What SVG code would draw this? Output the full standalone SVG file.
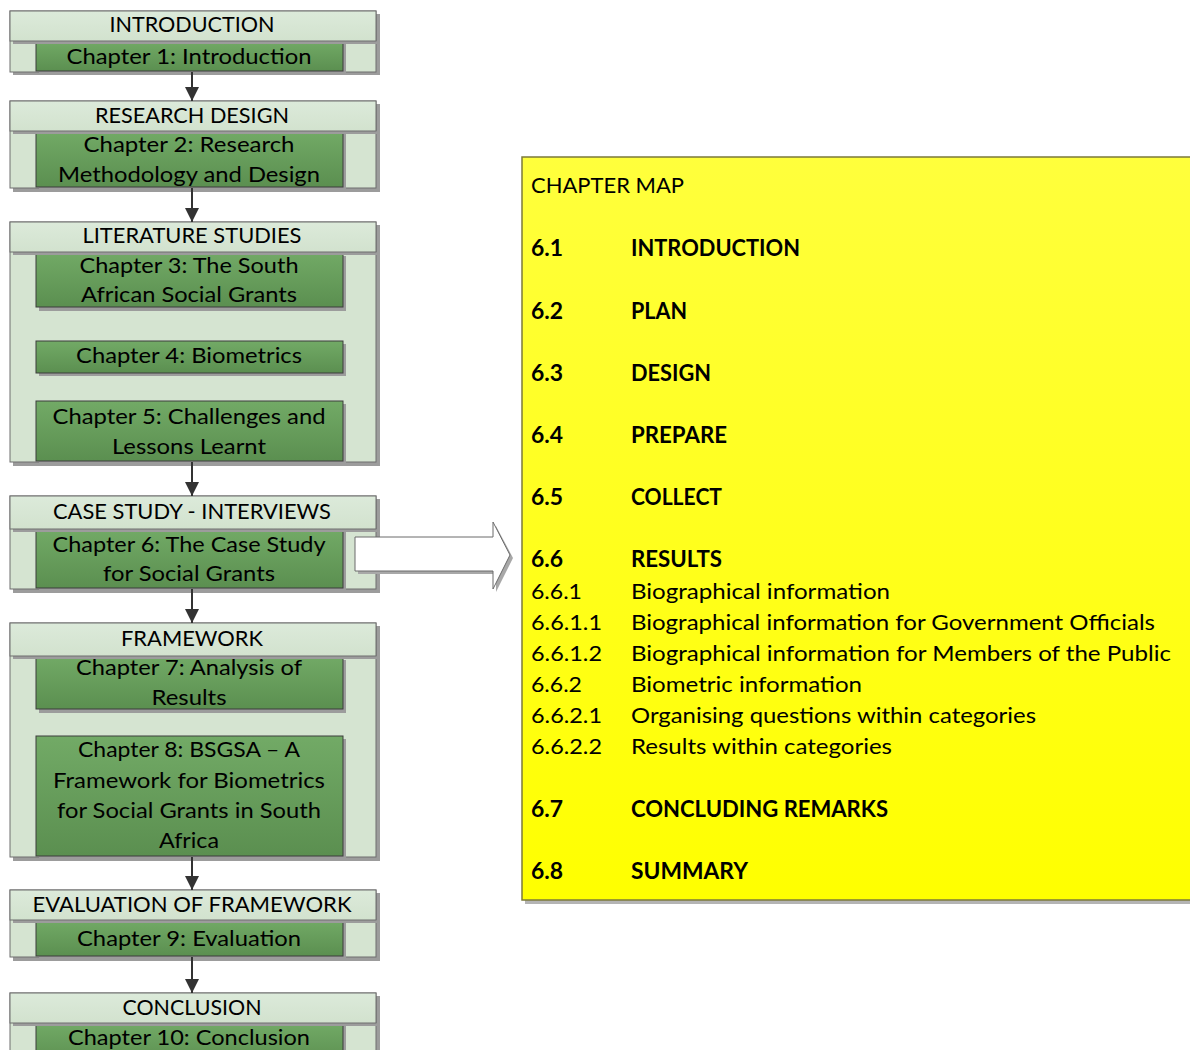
<svg xmlns="http://www.w3.org/2000/svg" width="1190" height="1050" viewBox="0 0 1190 1050">
  <style>
    .t { font-family: Lato, "Liberation Sans", sans-serif; font-size: 22px; fill: #000; }
    .c { text-anchor: middle; }
    .b { font-weight: bold; }
    .outer { fill: #d5e4d1; stroke: #6e6e6e; stroke-width: 1; }
    .head { fill: url(#headFill); stroke: #6e6e6e; stroke-width: 1; }
    .inner { fill: url(#greenFill); stroke: #3c3c3c; stroke-width: 1; }
    .shadow { fill: #9c9c9c; }
    .link { stroke: #333; stroke-width: 2; fill: none; }
  </style>
  <defs>
    <linearGradient id="greenFill" x1="0" y1="0" x2="0" y2="1">
      <stop offset="0" stop-color="#72aa66"/>
      <stop offset="1" stop-color="#5b8f50"/>
    </linearGradient>
    <linearGradient id="headFill" x1="0" y1="0" x2="0" y2="1">
      <stop offset="0" stop-color="#dceada"/>
      <stop offset="1" stop-color="#d2e2ce"/>
    </linearGradient>
    <linearGradient id="yellowFill" x1="0" y1="0" x2="0" y2="1">
      <stop offset="0" stop-color="#ffff3c"/>
      <stop offset="1" stop-color="#ffff00"/>
    </linearGradient>
    <marker id="tip" viewBox="0 0 14 14" refX="14" refY="7" markerWidth="14" markerHeight="14" markerUnits="userSpaceOnUse" orient="auto">
      <path d="M0,0 L14,7 L0,14 z" fill="#333"/>
    </marker>
  </defs>

  <!-- Stage 1 -->
  <g id="introduction">
    <rect class="shadow" x="13" y="14" width="367" height="61"/>
    <rect class="outer" x="10" y="11" width="366" height="61"/>
    <rect class="shadow" x="39" y="44" width="307" height="31"/>
    <rect class="inner" x="36" y="41" width="307" height="30"/>
    <rect class="shadow" x="13" y="41" width="367" height="3"/>
    <rect class="head" x="10" y="11" width="366" height="30"/>
    <text class="t c" x="192" y="32" textLength="165" lengthAdjust="spacingAndGlyphs">INTRODUCTION</text>
    <text class="t c" x="189" y="64" textLength="245" lengthAdjust="spacingAndGlyphs">Chapter 1: Introduction</text>
  </g>

  <!-- Stage 2 -->
  <g id="research-design">
    <rect class="shadow" x="13" y="104" width="367" height="88"/>
    <rect class="outer" x="10" y="101" width="366" height="87"/>
    <rect class="shadow" x="39" y="134" width="307" height="57"/>
    <rect class="inner" x="36" y="131" width="307" height="56"/>
    <rect class="shadow" x="13" y="131" width="367" height="3"/>
    <rect class="head" x="10" y="101" width="366" height="30"/>
    <text class="t c" x="192" y="123" textLength="194" lengthAdjust="spacingAndGlyphs">RESEARCH DESIGN</text>
    <text class="t c" x="189" y="152" textLength="211" lengthAdjust="spacingAndGlyphs">Chapter 2: Research</text>
    <text class="t c" x="189" y="182" textLength="262" lengthAdjust="spacingAndGlyphs">Methodology and Design</text>
  </g>

  <!-- Stage 3 -->
  <g id="literature-studies">
    <rect class="shadow" x="13" y="225" width="367" height="241"/>
    <rect class="outer" x="10" y="222" width="366" height="240"/>
    <rect class="shadow" x="39" y="256" width="307" height="55"/>
    <rect class="inner" x="36" y="252" width="307" height="55"/>
    <rect class="shadow" x="39" y="344" width="307" height="32"/>
    <rect class="inner" x="36" y="341" width="307" height="32"/>
    <rect class="shadow" x="39" y="404" width="307" height="60"/>
    <rect class="inner" x="36" y="401" width="307" height="60"/>
    <rect class="shadow" x="13" y="252" width="367" height="3"/>
    <rect class="head" x="10" y="222" width="366" height="30"/>
    <text class="t c" x="192" y="243" textLength="219" lengthAdjust="spacingAndGlyphs">LITERATURE STUDIES</text>
    <text class="t c" x="189" y="273" textLength="219" lengthAdjust="spacingAndGlyphs">Chapter 3: The South</text>
    <text class="t c" x="189" y="302" textLength="216" lengthAdjust="spacingAndGlyphs">African Social Grants</text>
    <text class="t c" x="189" y="363" textLength="226" lengthAdjust="spacingAndGlyphs">Chapter 4: Biometrics</text>
    <text class="t c" x="189" y="424" textLength="273" lengthAdjust="spacingAndGlyphs">Chapter 5: Challenges and</text>
    <text class="t c" x="189" y="454" textLength="154" lengthAdjust="spacingAndGlyphs">Lessons Learnt</text>
  </g>

  <!-- Stage 4 -->
  <g id="case-study">
    <rect class="shadow" x="13" y="499" width="367" height="94"/>
    <rect class="outer" x="10" y="496" width="366" height="93"/>
    <rect class="shadow" x="39" y="532" width="307" height="60"/>
    <rect class="inner" x="36" y="529" width="307" height="59"/>
    <rect class="shadow" x="13" y="529" width="367" height="3"/>
    <rect class="head" x="10" y="496" width="366" height="33"/>
    <text class="t c" x="192" y="519" textLength="278" lengthAdjust="spacingAndGlyphs">CASE STUDY - INTERVIEWS</text>
    <text class="t c" x="189" y="552" textLength="273" lengthAdjust="spacingAndGlyphs">Chapter 6: The Case Study</text>
    <text class="t c" x="189" y="581" textLength="172" lengthAdjust="spacingAndGlyphs">for Social Grants</text>
  </g>

  <!-- Stage 5 -->
  <g id="framework">
    <rect class="shadow" x="13" y="626" width="367" height="235"/>
    <rect class="outer" x="10" y="623" width="366" height="234"/>
    <rect class="shadow" x="39" y="660" width="307" height="53"/>
    <rect class="inner" x="36" y="656" width="307" height="53"/>
    <rect class="shadow" x="39" y="739" width="307" height="121"/>
    <rect class="inner" x="36" y="736" width="307" height="120"/>
    <rect class="shadow" x="13" y="656" width="367" height="3"/>
    <rect class="head" x="10" y="623" width="366" height="33"/>
    <text class="t c" x="192" y="646" textLength="142" lengthAdjust="spacingAndGlyphs">FRAMEWORK</text>
    <text class="t c" x="189" y="675" textLength="226" lengthAdjust="spacingAndGlyphs">Chapter 7: Analysis of</text>
    <text class="t c" x="189" y="705" textLength="75" lengthAdjust="spacingAndGlyphs">Results</text>
    <text class="t c" x="189" y="757" textLength="222" lengthAdjust="spacingAndGlyphs">Chapter 8: BSGSA – A</text>
    <text class="t c" x="189" y="788" textLength="272" lengthAdjust="spacingAndGlyphs">Framework for Biometrics</text>
    <text class="t c" x="189" y="818" textLength="264" lengthAdjust="spacingAndGlyphs">for Social Grants in South</text>
    <text class="t c" x="189" y="848" textLength="60" lengthAdjust="spacingAndGlyphs">Africa</text>
  </g>

  <!-- Stage 6 -->
  <g id="evaluation">
    <rect class="shadow" x="13" y="893" width="367" height="68"/>
    <rect class="outer" x="10" y="890" width="366" height="67"/>
    <rect class="shadow" x="39" y="923" width="307" height="37"/>
    <rect class="inner" x="36" y="920" width="307" height="36"/>
    <rect class="shadow" x="13" y="920" width="367" height="3"/>
    <rect class="head" x="10" y="890" width="366" height="30"/>
    <text class="t c" x="192" y="912" textLength="319" lengthAdjust="spacingAndGlyphs">EVALUATION OF FRAMEWORK</text>
    <text class="t c" x="189" y="946" textLength="224" lengthAdjust="spacingAndGlyphs">Chapter 9: Evaluation</text>
  </g>

  <!-- Stage 7 -->
  <g id="conclusion">
    <rect class="shadow" x="13" y="996" width="367" height="70"/>
    <rect class="outer" x="10" y="993" width="366" height="70"/>
    <rect class="shadow" x="39" y="1026" width="307" height="40"/>
    <rect class="inner" x="36" y="1023" width="307" height="40"/>
    <rect class="shadow" x="13" y="1023" width="367" height="3"/>
    <rect class="head" x="10" y="993" width="366" height="30"/>
    <text class="t c" x="192" y="1015" textLength="139" lengthAdjust="spacingAndGlyphs">CONCLUSION</text>
    <text class="t c" x="189" y="1045" textLength="242" lengthAdjust="spacingAndGlyphs">Chapter 10: Conclusion</text>
  </g>

  <!-- Chapter map panel -->
  <g id="chapter-map">
    <rect x="525" y="160" width="670" height="744" fill="#b4b4b4"/>
    <rect x="522" y="157" width="670" height="743" fill="url(#yellowFill)" stroke="#7c7a3a" stroke-width="1.5"/>
    <g class="t">
      <text x="531" y="193" textLength="153" lengthAdjust="spacingAndGlyphs">CHAPTER MAP</text>
      <g class="b">
        <text x="531" y="256" textLength="32" lengthAdjust="spacingAndGlyphs">6.1</text>
        <text x="631" y="256" textLength="169" lengthAdjust="spacingAndGlyphs">INTRODUCTION</text>
        <text x="531" y="319" textLength="32" lengthAdjust="spacingAndGlyphs">6.2</text>
        <text x="631" y="319" textLength="56" lengthAdjust="spacingAndGlyphs">PLAN</text>
        <text x="531" y="381" textLength="32" lengthAdjust="spacingAndGlyphs">6.3</text>
        <text x="631" y="381" textLength="80" lengthAdjust="spacingAndGlyphs">DESIGN</text>
        <text x="531" y="443" textLength="32" lengthAdjust="spacingAndGlyphs">6.4</text>
        <text x="631" y="443" textLength="96" lengthAdjust="spacingAndGlyphs">PREPARE</text>
        <text x="531" y="505" textLength="32" lengthAdjust="spacingAndGlyphs">6.5</text>
        <text x="631" y="505" textLength="91" lengthAdjust="spacingAndGlyphs">COLLECT</text>
        <text x="531" y="567" textLength="32" lengthAdjust="spacingAndGlyphs">6.6</text>
        <text x="631" y="567" textLength="91" lengthAdjust="spacingAndGlyphs">RESULTS</text>
        <text x="531" y="817" textLength="32" lengthAdjust="spacingAndGlyphs">6.7</text>
        <text x="631" y="817" textLength="257" lengthAdjust="spacingAndGlyphs">CONCLUDING REMARKS</text>
        <text x="531" y="879" textLength="32" lengthAdjust="spacingAndGlyphs">6.8</text>
        <text x="631" y="879" textLength="117" lengthAdjust="spacingAndGlyphs">SUMMARY</text>
      </g>
      <text x="531" y="599" textLength="51" lengthAdjust="spacingAndGlyphs">6.6.1</text>
      <text x="631" y="599" textLength="259" lengthAdjust="spacingAndGlyphs">Biographical information</text>
      <text x="531" y="630" textLength="71" lengthAdjust="spacingAndGlyphs">6.6.1.1</text>
      <text x="631" y="630" textLength="524" lengthAdjust="spacingAndGlyphs">Biographical information for Government Officials</text>
      <text x="531" y="661" textLength="71" lengthAdjust="spacingAndGlyphs">6.6.1.2</text>
      <text x="631" y="661" textLength="540" lengthAdjust="spacingAndGlyphs">Biographical information for Members of the Public</text>
      <text x="531" y="692" textLength="51" lengthAdjust="spacingAndGlyphs">6.6.2</text>
      <text x="631" y="692" textLength="231" lengthAdjust="spacingAndGlyphs">Biometric information</text>
      <text x="531" y="723" textLength="71" lengthAdjust="spacingAndGlyphs">6.6.2.1</text>
      <text x="631" y="723" textLength="405" lengthAdjust="spacingAndGlyphs">Organising questions within categories</text>
      <text x="531" y="754" textLength="71" lengthAdjust="spacingAndGlyphs">6.6.2.2</text>
      <text x="631" y="754" textLength="261" lengthAdjust="spacingAndGlyphs">Results within categories</text>
    </g>
  </g>

  <!-- Connectors -->
  <g id="connectors">
    <line class="link" x1="192" y1="72" x2="192" y2="101" marker-end="url(#tip)"/>
    <line class="link" x1="192" y1="188" x2="192" y2="222" marker-end="url(#tip)"/>
    <line class="link" x1="192" y1="462" x2="192" y2="496" marker-end="url(#tip)"/>
    <line class="link" x1="192" y1="589" x2="192" y2="623" marker-end="url(#tip)"/>
    <line class="link" x1="192" y1="857" x2="192" y2="890" marker-end="url(#tip)"/>
    <line class="link" x1="192" y1="957" x2="192" y2="993" marker-end="url(#tip)"/>
    <!-- block arrow towards the chapter map -->
    <path d="M358,540 L496,540 L496,526 L513,558 L496,592 L496,574 L358,574 z" fill="#a8a8a8"/>
    <path d="M355,537 L493,537 L493,522 L510,555 L493,589 L493,571 L355,571 z" fill="#ffffff" stroke="#6a6a6a" stroke-width="1"/>
  </g>
</svg>
